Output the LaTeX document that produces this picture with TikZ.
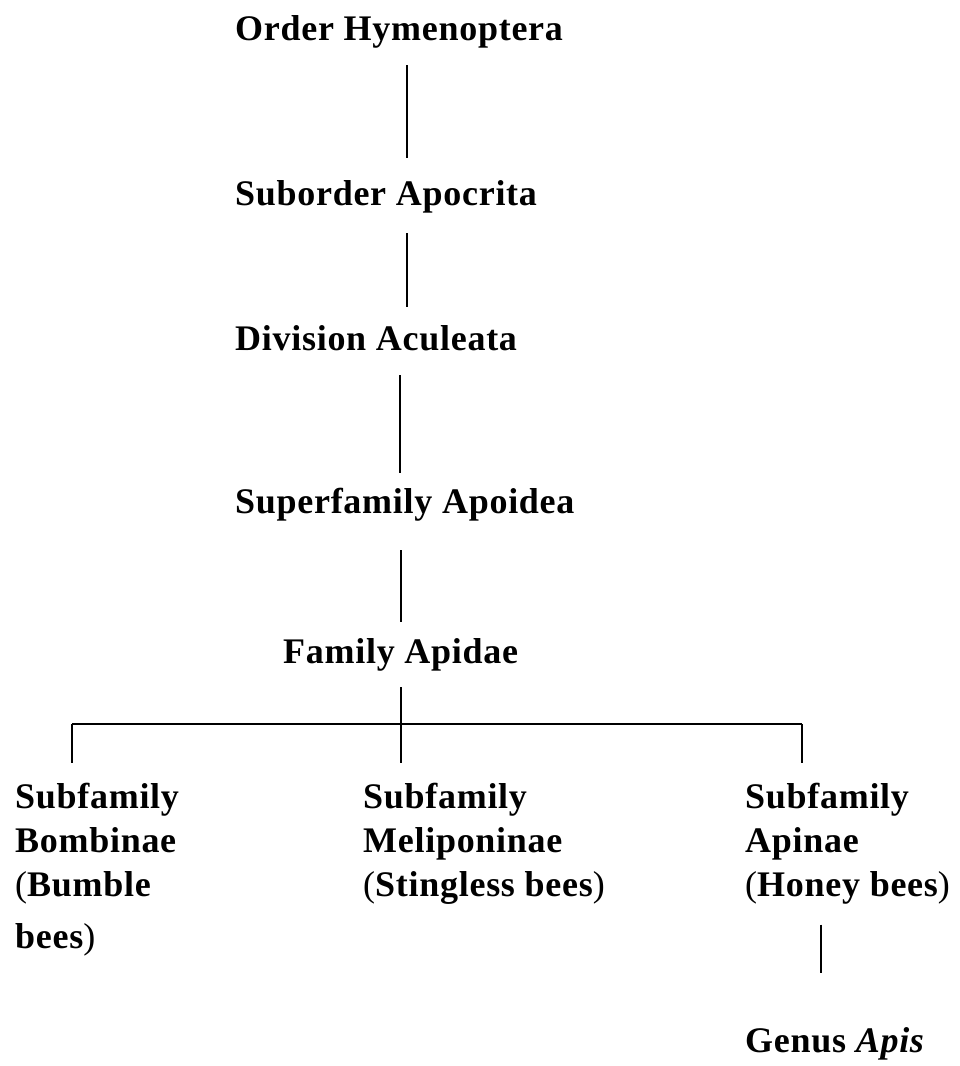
\documentclass[tikz,border=0pt]{standalone}
\usepackage{fontspec}
\setmainfont[LetterSpace=2]{Liberation Serif}
\usepackage{tikz}
\usetikzlibrary{positioning}

\begin{document}
\begin{tikzpicture}[
  x=1pt, y=-1pt,
  taxon/.style={inner sep=0pt, anchor=base west, text height=26pt,
                text depth=8pt, font=\bfseries\fontsize{36}{44}\selectfont},
  group/.style={inner sep=0pt, anchor=north west, align=left,
                font=\bfseries\fontsize{36}{44}\selectfont},
  link/.style={draw, line width=1.6pt, shorten <=17pt, shorten >=17pt},
]
  \useasboundingbox (0,0) rectangle (960,1066);

  % main line of ranks
  \node[taxon] (order)  at (235,  40) {Order Hymenoptera};
  \node[taxon] (subord) at (235, 205) {Suborder Apocrita};
  \node[taxon] (divis)  at (235, 350) {Division Aculeata};
  \node[taxon] (super)  at (235, 513) {Superfamily Apoidea};
  \node[taxon] (family) at (283, 663) {Family Apidae};

  % the three subfamilies
  \node[group] (bomb)   at ( 15, 783) {Subfamily\\Bombinae\\{\mdseries(}Bumble\\[8pt]bees{\mdseries)}};
  \node[group] (melip)  at (363, 783) {Subfamily\\Meliponinae\\{\mdseries(}Stingless bees{\mdseries)}};
  \node[group] (apinae) at (745, 783) {Subfamily\\Apinae\\{\mdseries(}Honey bees{\mdseries)}};
  \node[taxon] (genus)  at (745,1052) {Genus \textit{Apis}};

  \coordinate (lft) at ( 72, 724);
  \coordinate (hub) at (401, 724);
  \coordinate (rgt) at (802, 724);

  \draw[link, shorten >=21pt] (order.south -| 407,0) -- (subord.north -| 407,0);
  \draw[link, shorten <=20pt] (subord.south -| 407,0) -- (divis.north -| 407,0);
  \draw[link, shorten >=14pt] (divis.south -| 400,0) -- (super.north -| 400,0);
  \draw[link, shorten <=29pt, shorten >=15pt] (super.south -| 401,0) -- (family.north -| 401,0);
  \draw[link, shorten <=16pt, shorten >=20pt] (family.south -| hub) -- (melip.north -| hub);
  \draw[link, shorten <=0pt, shorten >=0pt] (lft) -- (rgt);
  \draw[link, shorten <=0pt, shorten >=20pt] (lft) -- (bomb.north -| lft);
  \draw[link, shorten <=0pt, shorten >=20pt] (rgt) -- (apinae.north -| rgt);
  \draw[link, shorten <=20pt, shorten >=53pt] (apinae.south -| 821,0) -- (genus.north -| 821,0);
\end{tikzpicture}
\end{document}
